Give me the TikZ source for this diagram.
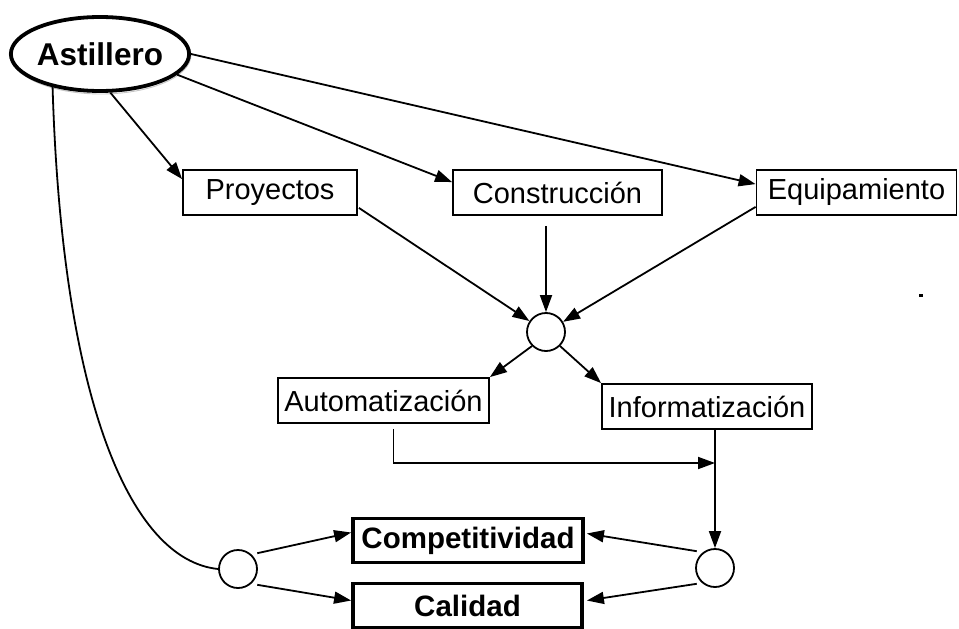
\documentclass[tikz,border=0pt]{standalone}
\usepackage{fontspec}
\setmainfont{Liberation Sans}
\usetikzlibrary{arrows.meta,shapes.geometric,calc}
\tikzset{
  reg/.style={font=\fontsize{29}{31}\selectfont},
  boldtxt/.style={font=\fontsize{29.5}{31}\selectfont\bfseries},
  plainbox/.style={draw, line width=1.8pt, minimum height=45pt, inner sep=0pt, reg},
  thickbox/.style={draw, line width=3.8pt, minimum height=44pt, inner sep=0pt, boldtxt},
  junction/.style={draw, circle, line width=1.8pt, minimum size=38pt, inner sep=0pt},
  arr/.style={line width=1.8pt, -{Triangle[length=17pt,width=12pt]}},
  conn/.style={line width=1.8pt}
}
\begin{document}
\begin{tikzpicture}[x=1pt,y=-1pt]
\useasboundingbox (0,0) rectangle (959,629);
% faint halo of the ellipse
\draw[gray!45, line width=0.9pt] (101,55) ellipse [x radius=90, y radius=39];
\node[draw, ellipse, line width=3.8pt, minimum width=174pt, minimum height=74pt, inner sep=0pt,
      font=\fontsize{31.5}{33}\selectfont\bfseries] (ast) at (100,54) {Astillero};

\node[plainbox, minimum width=174pt] (proy) at (270,192.5) {Proyectos};
\node[plainbox, minimum width=209pt] (cons) at (557.5,192.5) {Construcción};
\node[plainbox, minimum width=200pt] (equi) at (856.5,192.5) {Equipamiento};

\node[junction] (mc) at (546,332) {};

\node[plainbox, minimum width=211pt] (auto) at (383.5,400.5) {Automatización};
\node[plainbox, minimum width=210pt] (info) at (707,406.5) {Informatización};

\node[junction] (lc) at (238,569) {};
\node[junction] (rc) at (715,568) {};

\node[thickbox, minimum width=230pt] (comp) at (468,540.5) {Competitividad};
\node[thickbox, minimum width=229pt] (cal) at (467.5,605.5) {Calidad};

% from Astillero
\draw[arr] (ast.-75) -- ($(proy.north west)+(0,10)$);
\draw[arr] (ast.-15) -- ($(cons.north west)+(0,13)$);
\draw[arr] (ast.east) -- ($(equi.north west)+(0,15)$);
\draw[conn] (ast.215) .. controls (62,400) and (130,560) .. (lc.west);

% into the middle junction
\draw[arr] ($(proy.south east)+(1,-8)$) -- (mc);
\draw[arr] ([yshift=-10pt]cons.south -| mc) -- (mc.north);
\draw[arr] ($(equi.south west)+(0,-9)$) -- (mc);

% out of the middle junction
\draw[arr] (mc.225) -- (auto.north east);
\draw[arr] (mc.-45) -- (info.north west);

% Automatizacion / Informatizacion to right junction
\coordinate (j) at (715,463);
\draw[arr] ([xshift=10pt,yshift=-5pt]auto.south) |- (j);
\draw[arr] (info.south -| rc) -- (rc.north);

% to Competitividad and Calidad
\draw[arr] ($(lc.40)+(4,-3)$) -- ($(comp.west)+(0,-8)$);
\draw[arr] ($(lc.-40)+(4,3)$) -- ($(cal.west)+(0,-5)$);
\draw[arr] ($(rc.140)+(-3,-4)$) -- ($(comp.east)+(2,-7)$);
\draw[arr] ($(rc.220)+(-3,3)$) -- ($(cal.east)+(3,-5)$);

% stray mark
\fill (919,294) rectangle (923,297);
\end{tikzpicture}
\end{document}
